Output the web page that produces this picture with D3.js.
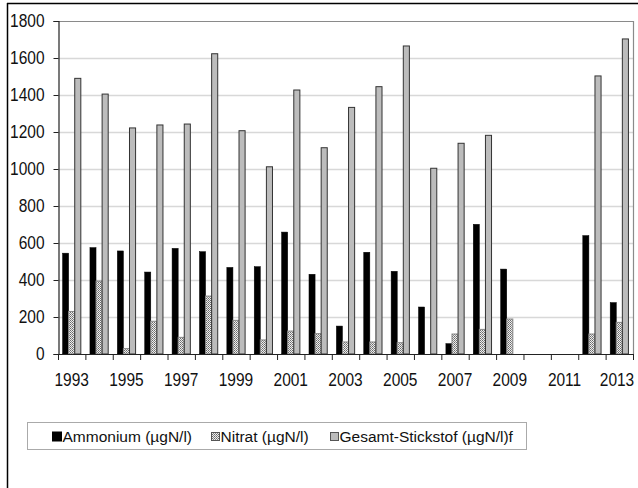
<!DOCTYPE html>
<html>
<head>
<meta charset="utf-8">
<script src="https://cdn.jsdelivr.net/npm/d3@7"></script>
<style>
  body { margin: 0; background: #fff; }
  svg text { font-family: "Liberation Sans", Arial, sans-serif; fill: #111; }
</style>
</head>
<body>
<div id="chart"></div>
<script>
//data
var years = ["1993","1994","1995","1996","1997","1998","1999","2000","2001","2002","2003",
	"2004","2005","2006","2007","2008","2009","2010","2011","2012","2013"];
var ammonium = [545, 575, 557, 443, 571, 553, 468, 472, 659, 431, 151,
	550, 447, 254, 56, 701, 459, null, null, 640, 278];
var nitrat = [230, 394, 29, 177, 90, 313, 182, 76, 124, 110, 65,
	65, 61, null, 108, 133, 189, null, null, 108, 171];
var gesamt = [1490, 1405, 1222, 1238, 1243, 1623, 1207, 1012, 1427, 1115, 1333,
	1445, 1665, 1004, 1139, 1182, null, null, null, 1503, 1703];
var seriesNames = ["Ammonium (µgN/l)", "Nitrat (µgN/l)", "Gesamt-Stickstof (µgN/l)f"];
var yTicks = [0, 200, 400, 600, 800, 1000, 1200, 1400, 1600, 1800];

var width = 638, height = 488;
var plotLeft = 58, plotRight = 633, plotTop = 21, plotBottom = 354;

var svg = d3.select("#chart").append("svg")
	.attr("width", width)
	.attr("height", height);

//squeeze text horizontally, the original font is a narrow one
function narrow(sel, k) {
	sel.each(function() {
		var w = this.getComputedTextLength();
		d3.select(this).attr("textLength", w * k).attr("lengthAdjust", "spacingAndGlyphs");
	});
}

//dotted hatch for Nitrat
var defs = svg.append("defs");
var pat = defs.append("pattern")
	.attr("id", "hatch")
	.attr("width", 2).attr("height", 2)
	.attr("patternUnits", "userSpaceOnUse");
pat.append("rect").attr("width", 2).attr("height", 2).attr("fill", "#eeeeee");
pat.append("rect").attr("x", 0).attr("y", 0).attr("width", 1).attr("height", 1).attr("fill", "#6a6a6a");
pat.append("rect").attr("x", 1).attr("y", 1).attr("width", 1).attr("height", 1).attr("fill", "#8a8a8a");

//page frame lines
svg.append("line").attr("x1", 7).attr("x2", width).attr("y1", 3.5).attr("y2", 3.5)
	.attr("stroke", "#000").attr("stroke-width", 1.5);
svg.append("line").attr("x1", 7.5).attr("x2", 7.5).attr("y1", 3).attr("y2", height)
	.attr("stroke", "#000").attr("stroke-width", 1.5);

var y = d3.scaleLinear().domain([0, 1800]).range([plotBottom, plotTop]);
var x0 = d3.scaleBand().domain(years).range([plotLeft, plotRight]).padding(0);
var step = x0.step();
var x1 = d3.scaleBand().domain([0, 1, 2]).range([step / 6, step * 5 / 6]).padding(0);

//gridlines
svg.append("g").selectAll("line")
	.data(yTicks.filter(function(d) { return d > 0; }))
	.enter().append("line")
	.attr("x1", plotLeft).attr("x2", plotRight)
	.attr("y1", function(d) { return Math.round(y(d)) + 0.5; })
	.attr("y2", function(d) { return Math.round(y(d)) + 0.5; })
	.attr("stroke", function(d) { return d == 1800 ? "#8a8a8a" : "#d8d8d8"; })
	.attr("stroke-width", function(d) { return d == 1800 ? 1.2 : 1.5; });

//right border of plot area
svg.append("line").attr("x1", plotRight + 0.5).attr("x2", plotRight + 0.5)
	.attr("y1", plotTop).attr("y2", plotBottom)
	.attr("stroke", "#8a8a8a").attr("stroke-width", 1.2);

//bars
var series = [ammonium, nitrat, gesamt];
var fills = ["#000", "url(#hatch)", "#bcbcbc"];
var strokes = ["#000", "#888", "#333"];
series.forEach(function(vals, s) {
	svg.append("g").selectAll("rect")
		.data(vals.map(function(v, i) { return { year: years[i], v: v }; })
			.filter(function(d) { return d.v != null; }))
		.enter().append("rect")
		.attr("x", function(d) { return x0(d.year) + x1(s); })
		.attr("y", function(d) { return y(d.v); })
		.attr("width", x1.bandwidth())
		.attr("height", function(d) { return plotBottom - y(d.v); })
		.attr("fill", fills[s])
		.attr("stroke", strokes[s])
		.attr("stroke-width", s == 0 ? 0.5 : 1);
});

//y axis
var yAxis = svg.append("g")
	.attr("transform", "translate(" + (plotLeft + 0.5) + ",0)")
	.call(d3.axisLeft(y).tickValues(yTicks).tickFormat(d3.format("d")).tickSize(5).tickPadding(9));
yAxis.select(".domain").attr("stroke", "#222").attr("stroke-width", 1.2);
yAxis.selectAll(".tick line").attr("stroke", "#222");
yAxis.selectAll("text").style("font-size", "18px").style("font-family", null).attr("fill", "#111")
	.call(narrow, 0.86);

//x axis: ticks on category boundaries, labels every other year
var xg = svg.append("g");
xg.append("line").attr("x1", plotLeft).attr("x2", plotRight)
	.attr("y1", plotBottom + 0.5).attr("y2", plotBottom + 0.5)
	.attr("stroke", "#222").attr("stroke-width", 1.2);
xg.selectAll(".xt")
	.data(years.concat(["end"]))
	.enter().append("line")
	.attr("class", "xt")
	.attr("x1", function(d, i) { return plotLeft + i * step + 0.5; })
	.attr("x2", function(d, i) { return plotLeft + i * step + 0.5; })
	.attr("y1", plotBottom).attr("y2", plotBottom + 6)
	.attr("stroke", "#222");
xg.selectAll("text")
	.data(years.filter(function(d, i) { return i % 2 == 0; }))
	.enter().append("text")
	.attr("x", function(d) { return Math.min(x0(d) + step / 2, width - 21); })
	.attr("y", 386)
	.attr("text-anchor", "middle")
	.style("font-size", "18px")
	.text(function(d) { return d; })
	.call(narrow, 0.86);

//legend
var lg = svg.append("g");
lg.append("rect").attr("x", 27.5).attr("y", 422.5).attr("width", 499).attr("height", 27)
	.attr("fill", "#fff").attr("stroke", "#aaa").attr("stroke-width", 1);
var legX = [52, 211, 330];
var legSize = [9, 8, 8];
seriesNames.forEach(function(name, s) {
	lg.append("rect")
		.attr("x", legX[s] + 0.5).attr("y", 436.5 - legSize[s] / 2)
		.attr("width", legSize[s]).attr("height", legSize[s])
		.attr("fill", fills[s]).attr("stroke", s == 0 ? "#000" : "#555");
	lg.append("text")
		.attr("x", legX[s] + legSize[s] + 1.5)
		.attr("y", 441.5)
		.style("font-size", "15.5px")
		.text(name);
});
</script>
</body>
</html>
